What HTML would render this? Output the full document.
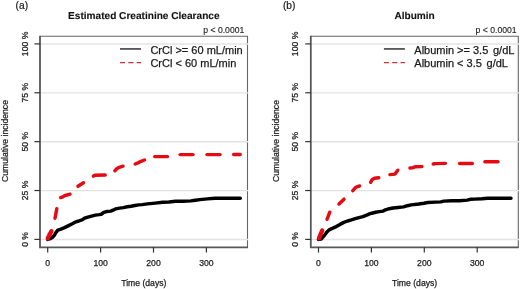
<!DOCTYPE html>
<html><head><meta charset="utf-8"><style>
html,body{margin:0;padding:0;background:#fff;}
svg{display:block;will-change:transform;filter:blur(0.3px);}
text{font-family:"Liberation Sans",sans-serif;stroke:currentColor;stroke-width:0.25px;}
</style></head><body>
<svg width="520" height="289" viewBox="0 0 520 289">
<rect x="0" y="0" width="520" height="289" fill="#fff"/>
<polyline points="40.10,36.30 247.50,36.30 247.50,247.20" fill="none" stroke="#666" stroke-width="1.1"/>
<line x1="40.10" y1="239.50" x2="248.30" y2="239.50" stroke="#e3e3e3" stroke-width="1.35"/>
<line x1="40.10" y1="190.62" x2="248.30" y2="190.62" stroke="#e3e3e3" stroke-width="1.35"/>
<line x1="40.10" y1="141.75" x2="248.30" y2="141.75" stroke="#e3e3e3" stroke-width="1.35"/>
<line x1="40.10" y1="92.88" x2="248.30" y2="92.88" stroke="#e3e3e3" stroke-width="1.35"/>
<line x1="40.10" y1="44.00" x2="248.30" y2="44.00" stroke="#e3e3e3" stroke-width="1.35"/>
<polyline points="47.70,239.40 50.40,238.60 52.50,237.20 54.30,235.30 56.20,232.20 57.80,230.10 60.30,229.30 64.50,227.60 68.60,225.60 72.80,223.50 76.00,221.80 78.80,221.00 82.70,219.60 84.00,218.40 87.80,217.10 91.60,216.10 95.40,215.10 99.20,214.60 101.50,214.20 103.80,212.30 106.80,211.50 110.70,211.10 113.00,210.20 115.80,208.90 119.60,208.10 123.40,207.60 127.20,206.80 131.00,206.30 134.80,205.50 138.70,204.90 142.00,204.60 147.60,203.90 155.20,203.10 162.80,202.30 169.00,202.00 175.60,201.30 183.20,201.30 190.80,200.90 195.40,200.20 199.80,199.60 207.40,198.90 215.00,198.30 226.00,198.20 240.30,198.30" fill="none" stroke="#000" stroke-width="3.45" stroke-linecap="round" stroke-linejoin="round"/>
<polyline points="47.80,238.40 49.60,234.50 51.40,231.20" fill="none" stroke="#e60a12" stroke-width="4.3500000000000005" stroke-linecap="round" stroke-linejoin="round"/>
<polyline points="55.00,218.30 56.80,208.80" fill="none" stroke="#e60a12" stroke-width="3.45" stroke-linecap="round" stroke-linejoin="round"/>
<polyline points="60.60,197.60 62.80,196.90 64.60,195.60 67.00,195.00 70.00,194.20" fill="none" stroke="#e60a12" stroke-width="3.45" stroke-linecap="round" stroke-linejoin="round"/>
<polyline points="78.00,186.30 83.50,182.80" fill="none" stroke="#e60a12" stroke-width="3.45" stroke-linecap="round" stroke-linejoin="round"/>
<polyline points="93.40,176.20 94.60,175.30 105.20,175.00" fill="none" stroke="#e60a12" stroke-width="3.45" stroke-linecap="round" stroke-linejoin="round"/>
<polyline points="114.90,170.70 116.50,169.00 118.50,167.60 123.00,166.20" fill="none" stroke="#e60a12" stroke-width="3.45" stroke-linecap="round" stroke-linejoin="round"/>
<polyline points="135.20,164.00 138.50,162.60 141.00,161.30 144.50,160.00" fill="none" stroke="#e60a12" stroke-width="3.45" stroke-linecap="round" stroke-linejoin="round"/>
<polyline points="154.70,156.60 167.50,156.60" fill="none" stroke="#e60a12" stroke-width="3.45" stroke-linecap="round" stroke-linejoin="round"/>
<polyline points="180.10,154.60 193.00,154.60" fill="none" stroke="#e60a12" stroke-width="3.45" stroke-linecap="round" stroke-linejoin="round"/>
<polyline points="207.00,154.60 220.00,154.60" fill="none" stroke="#e60a12" stroke-width="3.45" stroke-linecap="round" stroke-linejoin="round"/>
<polyline points="233.70,154.50 240.20,154.50" fill="none" stroke="#e60a12" stroke-width="3.45" stroke-linecap="round" stroke-linejoin="round"/>
<polyline points="40.00,35.80 40.00,247.30 248.00,247.30" fill="none" stroke="#585858" stroke-width="1.8"/>
<line x1="34.40" y1="239.40" x2="40.10" y2="239.40" stroke="#333" stroke-width="1.2"/>
<text x="0" y="0" transform="translate(27.60,239.40) rotate(-90)" text-anchor="middle" font-size="8.65" fill="#222" color="#222">0 %</text>
<line x1="34.40" y1="190.53" x2="40.10" y2="190.53" stroke="#333" stroke-width="1.2"/>
<text x="0" y="0" transform="translate(27.60,190.53) rotate(-90)" text-anchor="middle" font-size="8.65" fill="#222" color="#222">25 %</text>
<line x1="34.40" y1="141.65" x2="40.10" y2="141.65" stroke="#333" stroke-width="1.2"/>
<text x="0" y="0" transform="translate(27.60,141.65) rotate(-90)" text-anchor="middle" font-size="8.65" fill="#222" color="#222">50 %</text>
<line x1="34.40" y1="92.78" x2="40.10" y2="92.78" stroke="#333" stroke-width="1.2"/>
<text x="0" y="0" transform="translate(27.60,92.78) rotate(-90)" text-anchor="middle" font-size="8.65" fill="#222" color="#222">75 %</text>
<line x1="34.40" y1="43.90" x2="40.10" y2="43.90" stroke="#333" stroke-width="1.2"/>
<text x="0" y="0" transform="translate(27.60,43.90) rotate(-90)" text-anchor="middle" font-size="8.65" fill="#222" color="#222">100 %</text>
<line x1="47.70" y1="247.20" x2="47.70" y2="252.6" stroke="#333" stroke-width="1.2"/>
<text x="47.70" y="265.8" text-anchor="middle" font-size="8.65" fill="#222" color="#222">0</text>
<line x1="100.60" y1="247.20" x2="100.60" y2="252.6" stroke="#333" stroke-width="1.2"/>
<text x="100.60" y="265.8" text-anchor="middle" font-size="8.65" fill="#222" color="#222">100</text>
<line x1="153.50" y1="247.20" x2="153.50" y2="252.6" stroke="#333" stroke-width="1.2"/>
<text x="153.50" y="265.8" text-anchor="middle" font-size="8.65" fill="#222" color="#222">200</text>
<line x1="206.40" y1="247.20" x2="206.40" y2="252.6" stroke="#333" stroke-width="1.2"/>
<text x="206.40" y="265.8" text-anchor="middle" font-size="8.65" fill="#222" color="#222">300</text>
<text x="143.80" y="285.8" text-anchor="middle" font-size="8.65" fill="#222" color="#222">Time (days)</text>
<text x="0" y="0" transform="translate(7.90,141.05) rotate(-90)" text-anchor="middle" font-size="8.65" fill="#222" color="#222">Cumulative incidence</text>
<text x="0" y="0" transform="translate(143.80,19.0)" text-anchor="middle" font-size="10.1" font-weight="bold" text-rendering="geometricPrecision" fill="#111" color="#111" style="stroke-width:0.1px">Estimated Creatinine Clearance</text>
<text x="244.30" y="32.6" text-anchor="end" font-size="8.65" fill="#222" color="#222" style="stroke-width:0.12px">p &lt; 0.0001</text>
<text x="15.60" y="8.75" font-size="10.2" fill="#1a1a1a" color="#1a1a1a" style="stroke-width:0.2px">(a)</text>
<line x1="120.00" y1="48.95" x2="141.00" y2="48.95" stroke="#111" stroke-width="1.3"/>
<line x1="120.00" y1="62.7" x2="141.00" y2="62.7" stroke="#c83038" stroke-width="1.2" stroke-dasharray="5,3.3"/>
<text x="150.40" y="53.7" font-size="11.0" fill="#1a1a1a" color="#1a1a1a">CrCl &gt;= 60 mL/min</text>
<text x="150.40" y="66.8" font-size="11.0" fill="#1a1a1a" color="#1a1a1a">CrCl &lt; 60 mL/min</text>
<polyline points="310.90,36.30 518.30,36.30 518.30,247.20" fill="none" stroke="#666" stroke-width="1.1"/>
<line x1="310.90" y1="239.50" x2="519.10" y2="239.50" stroke="#e3e3e3" stroke-width="1.35"/>
<line x1="310.90" y1="190.62" x2="519.10" y2="190.62" stroke="#e3e3e3" stroke-width="1.35"/>
<line x1="310.90" y1="141.75" x2="519.10" y2="141.75" stroke="#e3e3e3" stroke-width="1.35"/>
<line x1="310.90" y1="92.88" x2="519.10" y2="92.88" stroke="#e3e3e3" stroke-width="1.35"/>
<line x1="310.90" y1="44.00" x2="519.10" y2="44.00" stroke="#e3e3e3" stroke-width="1.35"/>
<polyline points="318.50,239.40 321.20,239.00 322.20,237.90 324.30,235.50 326.70,232.30 329.10,229.90 332.30,228.40 336.30,226.60 340.00,224.40 343.80,222.40 347.60,221.00 351.40,219.90 355.20,218.70 359.00,217.60 362.80,216.60 366.70,215.10 369.50,213.90 371.80,213.20 375.60,212.30 379.40,211.60 383.20,211.10 385.50,209.80 389.30,208.70 393.10,208.00 398.00,207.50 403.60,206.85 407.40,205.70 411.20,204.90 418.80,204.00 424.00,203.20 427.80,202.50 435.40,202.10 440.80,201.90 443.80,201.10 452.00,200.80 459.60,200.70 467.20,200.10 470.30,199.30 474.80,199.10 482.00,198.80 487.60,198.30 502.80,198.20 511.00,198.20" fill="none" stroke="#000" stroke-width="3.45" stroke-linecap="round" stroke-linejoin="round"/>
<polyline points="319.00,238.20 320.60,234.20 322.20,230.60" fill="none" stroke="#e60a12" stroke-width="4.3500000000000005" stroke-linecap="round" stroke-linejoin="round"/>
<polyline points="327.00,219.30 329.80,212.20" fill="none" stroke="#e60a12" stroke-width="3.45" stroke-linecap="round" stroke-linejoin="round"/>
<polyline points="339.00,204.00 344.00,199.20" fill="none" stroke="#e60a12" stroke-width="3.45" stroke-linecap="round" stroke-linejoin="round"/>
<polyline points="352.80,190.60 355.30,187.80 357.50,186.60 359.60,186.00" fill="none" stroke="#e60a12" stroke-width="3.45" stroke-linecap="round" stroke-linejoin="round"/>
<polyline points="370.60,182.30 372.00,179.80 374.50,178.30 378.80,177.80" fill="none" stroke="#e60a12" stroke-width="3.45" stroke-linecap="round" stroke-linejoin="round"/>
<polyline points="390.00,174.60 395.00,174.10 397.80,170.20" fill="none" stroke="#e60a12" stroke-width="3.45" stroke-linecap="round" stroke-linejoin="round"/>
<polyline points="410.00,168.00 413.00,167.60 415.00,166.80 421.90,166.60" fill="none" stroke="#e60a12" stroke-width="3.45" stroke-linecap="round" stroke-linejoin="round"/>
<polyline points="433.20,164.00 435.00,163.60 445.40,163.40" fill="none" stroke="#e60a12" stroke-width="3.45" stroke-linecap="round" stroke-linejoin="round"/>
<polyline points="459.60,163.50 472.30,163.50" fill="none" stroke="#e60a12" stroke-width="3.45" stroke-linecap="round" stroke-linejoin="round"/>
<polyline points="484.90,161.70 498.00,161.70" fill="none" stroke="#e60a12" stroke-width="3.45" stroke-linecap="round" stroke-linejoin="round"/>
<polyline points="310.80,35.80 310.80,247.30 518.80,247.30" fill="none" stroke="#585858" stroke-width="1.8"/>
<line x1="305.20" y1="239.40" x2="310.90" y2="239.40" stroke="#333" stroke-width="1.2"/>
<text x="0" y="0" transform="translate(298.40,239.40) rotate(-90)" text-anchor="middle" font-size="8.65" fill="#222" color="#222">0 %</text>
<line x1="305.20" y1="190.53" x2="310.90" y2="190.53" stroke="#333" stroke-width="1.2"/>
<text x="0" y="0" transform="translate(298.40,190.53) rotate(-90)" text-anchor="middle" font-size="8.65" fill="#222" color="#222">25 %</text>
<line x1="305.20" y1="141.65" x2="310.90" y2="141.65" stroke="#333" stroke-width="1.2"/>
<text x="0" y="0" transform="translate(298.40,141.65) rotate(-90)" text-anchor="middle" font-size="8.65" fill="#222" color="#222">50 %</text>
<line x1="305.20" y1="92.78" x2="310.90" y2="92.78" stroke="#333" stroke-width="1.2"/>
<text x="0" y="0" transform="translate(298.40,92.78) rotate(-90)" text-anchor="middle" font-size="8.65" fill="#222" color="#222">75 %</text>
<line x1="305.20" y1="43.90" x2="310.90" y2="43.90" stroke="#333" stroke-width="1.2"/>
<text x="0" y="0" transform="translate(298.40,43.90) rotate(-90)" text-anchor="middle" font-size="8.65" fill="#222" color="#222">100 %</text>
<line x1="318.50" y1="247.20" x2="318.50" y2="252.6" stroke="#333" stroke-width="1.2"/>
<text x="318.50" y="265.8" text-anchor="middle" font-size="8.65" fill="#222" color="#222">0</text>
<line x1="371.40" y1="247.20" x2="371.40" y2="252.6" stroke="#333" stroke-width="1.2"/>
<text x="371.40" y="265.8" text-anchor="middle" font-size="8.65" fill="#222" color="#222">100</text>
<line x1="424.30" y1="247.20" x2="424.30" y2="252.6" stroke="#333" stroke-width="1.2"/>
<text x="424.30" y="265.8" text-anchor="middle" font-size="8.65" fill="#222" color="#222">200</text>
<line x1="477.20" y1="247.20" x2="477.20" y2="252.6" stroke="#333" stroke-width="1.2"/>
<text x="477.20" y="265.8" text-anchor="middle" font-size="8.65" fill="#222" color="#222">300</text>
<text x="414.60" y="285.8" text-anchor="middle" font-size="8.65" fill="#222" color="#222">Time (days)</text>
<text x="0" y="0" transform="translate(278.70,141.05) rotate(-90)" text-anchor="middle" font-size="8.65" fill="#222" color="#222">Cumulative incidence</text>
<text x="0" y="0" transform="translate(414.60,19.0)" text-anchor="middle" font-size="10.1" font-weight="bold" text-rendering="geometricPrecision" fill="#111" color="#111" style="stroke-width:0.1px">Albumin</text>
<text x="516.60" y="32.6" text-anchor="end" font-size="8.65" fill="#222" color="#222" style="stroke-width:0.12px">p &lt; 0.0001</text>
<text x="282.90" y="8.75" font-size="10.2" fill="#1a1a1a" color="#1a1a1a" style="stroke-width:0.2px">(b)</text>
<line x1="383.90" y1="48.95" x2="404.90" y2="48.95" stroke="#111" stroke-width="1.3"/>
<line x1="383.90" y1="62.7" x2="404.90" y2="62.7" stroke="#c83038" stroke-width="1.2" stroke-dasharray="5,3.3"/>
<text x="414.30" y="53.7" font-size="11.0" fill="#1a1a1a" color="#1a1a1a">Albumin &gt;= 3.5 <tspan dx="1.6">g/dL</tspan></text>
<text x="414.30" y="66.8" font-size="11.0" fill="#1a1a1a" color="#1a1a1a">Albumin &lt; 3.5 <tspan dx="1.6">g/dL</tspan></text>
</svg>
</body></html>
